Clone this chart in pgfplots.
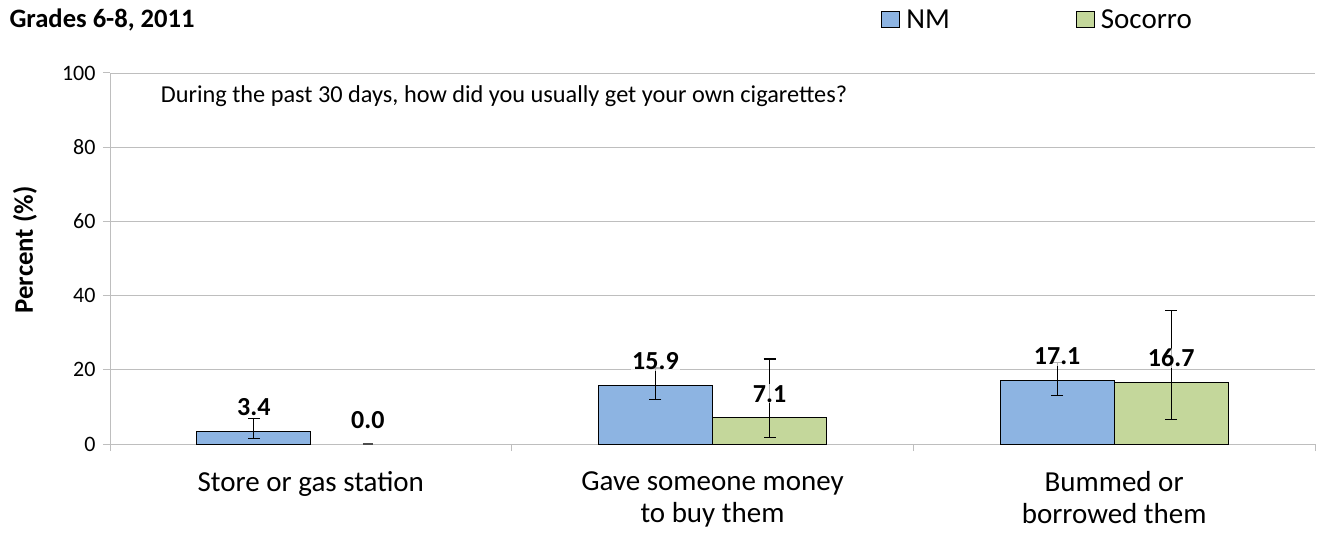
\documentclass[border=0pt]{standalone}
\usepackage{pgfplots}
\pgfplotsset{compat=1.18}
\usepackage{fontspec}
\setmainfont{Carlito}
\definecolor{nmblue}{RGB}{141,180,226}
\definecolor{socgreen}{RGB}{196,215,155}
\definecolor{gridgray}{RGB}{190,190,190}
\begin{document}
\begin{tikzpicture}
\useasboundingbox (-110bp,-89bp) rectangle (1209bp,444bp);
\begin{axis}[
  at={(0,0)}, anchor=south west,
  scale only axis, width=1205bp, height=371bp,
  ybar=0pt, bar width=0.284,
  xmin=-0.5, xmax=2.5, ymin=0, ymax=100,
  ytick={0,20,40,60,80,100},
  xtick={-0.5,0.5,1.5,2.5}, xticklabels={},
  extra x ticks={0,1,2},
  extra x tick labels={Store or gas station, Gave someone money\\to buy them, Bummed or\\borrowed them},
  extra x tick style={major tick length=0pt, xticklabel style={align=center, font=\fontsize{29bp}{32bp}\selectfont, yshift=-24bp}},
  ymajorgrids, grid style={gridgray, line width=0.8bp},
  axis x line*=bottom, axis y line*=left,
  axis line style={gridgray, line width=1bp, -},
  tick style={gridgray, line width=1bp},
  tick align=outside, major tick length=7bp,
  yticklabel style={font=\fontsize{22bp}{26bp}\selectfont, xshift=-4bp},
  /pgf/number format/assume math mode=true,
  clip=false,
  legend style={draw=none, fill=none, at={(axis description cs:0.640,1.143)}, anchor=west,
    legend columns=2, font=\fontsize{29bp}{33bp}\selectfont, inner sep=0pt,
    /tikz/every odd column/.append style={column sep=4bp},
    /tikz/every even column/.append style={column sep=124bp}},
  legend image code/.code={\draw[#1, draw=black, line width=1bp] (0bp,-8bp) rectangle (18bp,8bp);},
  nodes near coords,
  nodes near coords style={font=\bfseries\fontsize{26bp}{30bp}\selectfont, anchor=center, yshift=24bp,
    fill=white, fill opacity=0.7, text opacity=1, inner sep=1bp,
    /pgf/number format/.cd, fixed, fixed zerofill, precision=1, assume math mode=true},
]
\addplot[fill=nmblue, draw=black, line width=1bp, bar shift=-0.142,
  error bars/.cd, y dir=both, y explicit,
  error bar style={black, line width=1.2bp},
  error mark options={black, line width=1.2bp, mark size=6bp, rotate=90}]
  coordinates {(0,3.4) += (0,3.5) -= (0,1.9)
               (1,15.9) += (0,4.6) -= (0,3.8)
               (2,17.1) += (0,4.8) -= (0,4.1)};
\addlegendentry{NM}
\addplot[fill=socgreen, draw=black, line width=1bp, bar shift=0.142,
  error bars/.cd, y dir=both, y explicit,
  error bar style={black, line width=1.2bp},
  error mark options={black, line width=1.2bp, mark size=6bp, rotate=90}]
  coordinates {(1,7.1) += (0,15.8) -= (0,5.3)
               (2,16.7) += (0,19.2) -= (0,10.0)};
\addlegendentry{Socorro}
\addplot[fill=none, draw=none, bar shift=0.142, forget plot,
  error bars/.cd, y dir=both, y explicit,
  error bar style={black, line width=1bp},
  error mark options={black!70, line width=1.2bp, mark size=5bp, rotate=90}]
  coordinates {(0,0) += (0,0) -= (0,0)};
\node[font=\fontsize{24.3bp}{28bp}\selectfont] at (axis description cs:0.327,0.938)
  {During the past 30 days, how did you usually get your own cigarettes?};
\end{axis}
\node[anchor=west, font=\bfseries\fontsize{26.6bp}{30bp}\selectfont] at (-104bp,424bp) {Grades 6-8, 2011};
\node[rotate=90, font=\bfseries\fontsize{26.8bp}{30bp}\selectfont] at (-85bp,194bp) {Percent (\%)};
\end{tikzpicture}
\end{document}
